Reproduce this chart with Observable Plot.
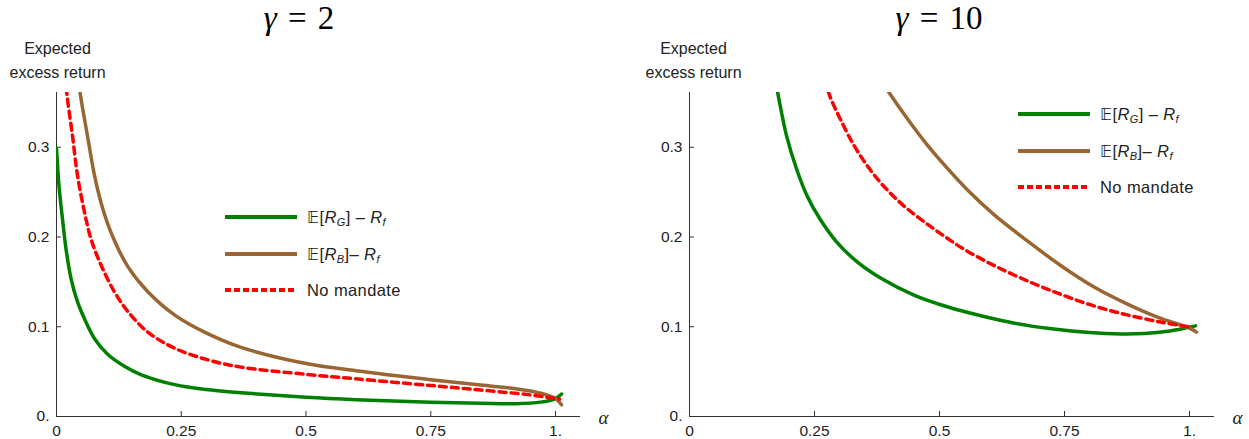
<!DOCTYPE html>
<html>
<head>
<meta charset="utf-8">
<script src="https://cdn.jsdelivr.net/npm/d3@7"></script>
<script src="https://cdn.jsdelivr.net/npm/@observablehq/plot@0.6"></script>
<style>
  body { margin: 0; background: #fff; }
  #root { position: relative; width: 1249px; height: 439px; overflow: hidden; font-family: "Liberation Sans", Arial, sans-serif; color: #222; }
  .panel { position: absolute; top: 0; width: 624px; height: 439px; }
  .title { position: absolute; top: 0; height: 36px; line-height: 36px; font-family: "Liberation Serif", "DejaVu Serif", serif; font-size: 33px; transform: translateX(-50%); white-space: nowrap; color: #000; }
  .title .eq { padding: 0 0.34em; }
  .plotbox { position: absolute; top: 36px; left: 0; }
  .legend { position: absolute; font-size: 16.5px; letter-spacing: 0.4px; }
  .row { position: absolute; left: 0; height: 20px; white-space: nowrap; }
  .row svg { position: absolute; left: 0; top: 6px; }
  .row .lbl { position: absolute; left: 82px; top: 0; line-height: 20px; }
  .row sub { font-size: 11px; vertical-align: -3px; line-height: 0; }
  .bb { font-family: "DejaVu Sans", sans-serif; }
</style>
</head>
<body>
<div id="root"></div>
<script>
// ---- Data ----
const xTicks = [0, 0.25, 0.5, 0.75, 1];
const xTickLabels = ["0", "0.25", "0.5", "0.75", "1."];
const yTicks = [0, 0.1, 0.2, 0.3];
const yTickLabels = ["0.", "0.1", "0.2", "0.3"];

// gamma = 2
const g2GreenAlpha = [0, 0.005, 0.012, 0.019, 0.029, 0.042, 0.056, 0.076, 0.103, 0.136, 0.17, 0.237, 0.3, 0.37, 0.5, 0.6, 0.75, 0.85, 0.92, 0.97, 1.0, 1.012];
const g2GreenValue = [0.299, 0.257, 0.22, 0.187, 0.154, 0.128, 0.109, 0.087, 0.069, 0.056, 0.0465, 0.0355, 0.030, 0.0265, 0.0215, 0.0188, 0.016, 0.0148, 0.0143, 0.016, 0.020, 0.025];
const g2BrownAlpha = [0.044, 0.048, 0.062, 0.076, 0.092, 0.113, 0.143, 0.183, 0.237, 0.304, 0.37, 0.5, 0.6, 0.75, 0.85, 0.92, 0.97, 1.0, 1.012];
const g2BrownValue = [0.375, 0.358, 0.313, 0.269, 0.233, 0.200, 0.167, 0.139, 0.113, 0.092, 0.077, 0.059, 0.051, 0.041, 0.035, 0.031, 0.026, 0.020, 0.013];
const g2RedAlpha = [0.017, 0.021, 0.032, 0.042, 0.056, 0.069, 0.089, 0.116, 0.143, 0.183, 0.237, 0.304, 0.37, 0.5, 0.6, 0.75, 0.85, 0.95, 1.0, 1.008];
const g2RedValue = [0.38, 0.358, 0.313, 0.269, 0.228, 0.198, 0.169, 0.139, 0.117, 0.094, 0.076, 0.063, 0.055, 0.047, 0.042, 0.0345, 0.0295, 0.024, 0.020, 0.0195];

// gamma = 10
const g10GreenAlpha = [0.17, 0.177, 0.194, 0.214, 0.235, 0.261, 0.295, 0.336, 0.383, 0.45, 0.517, 0.585, 0.65, 0.72, 0.8, 0.864, 0.91, 0.957, 1.0, 1.012];
const g10GreenValue = [0.38, 0.359, 0.313, 0.276, 0.246, 0.22, 0.194, 0.172, 0.154, 0.135, 0.122, 0.112, 0.104, 0.098, 0.0935, 0.092, 0.0925, 0.095, 0.0996, 0.101];
const g10BrownAlpha = [0.385, 0.399, 0.442, 0.475, 0.515, 0.555, 0.609, 0.675, 0.743, 0.81, 0.877, 0.944, 1.0, 1.014];
const g10BrownValue = [0.373, 0.361, 0.327, 0.303, 0.277, 0.253, 0.225, 0.196, 0.168, 0.144, 0.125, 0.109, 0.0985, 0.094];
const g10RedAlpha = [0.272, 0.28, 0.302, 0.329, 0.356, 0.383, 0.416, 0.45, 0.484, 0.517, 0.55, 0.61, 0.676, 0.743, 0.81, 0.877, 0.944, 1.0, 1.005];
const g10RedValue = [0.375, 0.358, 0.331, 0.302, 0.279, 0.26, 0.241, 0.225, 0.211, 0.198, 0.186, 0.168, 0.151, 0.136, 0.123, 0.113, 0.105, 0.0996, 0.099];

// ---- Styles ----
const GREEN = "#008000", BROWN = "#996633", RED = "#ff0000";
const AXIS = "#333";

function pairs(a, v) { return a.map((x, i) => ({alpha: x, value: v[i]})); }

function makePlot(cfg) {
  const W = 624, H = 403, mT = 56, mB = 23;
  const frameH = H - mT - mB;
  const frameW = W - cfg.mL - cfg.mR;
  return Plot.plot({
    width: W, height: H,
    marginLeft: cfg.mL, marginRight: cfg.mR, marginTop: mT, marginBottom: mB,
    x: {domain: [0, 1.05]},
    y: {domain: [0, 0.361]},
    style: {fontFamily: "Liberation Sans, Arial, sans-serif", fontSize: "15.5px", color: "#222", background: "transparent", overflow: "visible"},
    marks: [
      Plot.ruleY([0], {stroke: AXIS, strokeWidth: 1}),
      Plot.ruleX([0], {stroke: AXIS, strokeWidth: 1}),
      Plot.tickX(xTicks.slice(1), {x: d => d, stroke: AXIS, insetTop: frameH - 5}),
      Plot.tickY(yTicks.slice(1), {y: d => d, stroke: AXIS, insetRight: frameW - 5}),
      Plot.axisX(xTicks, {tickSize: 0, tickPadding: 8, tickFormat: d => xTickLabels[xTicks.indexOf(d)], label: null, fill: "#222"}),
      Plot.axisY(yTicks, {tickSize: 0, tickPadding: 7, tickFormat: d => yTickLabels[yTicks.indexOf(d)], label: null, fill: "#222"}),
      Plot.line(pairs(cfg.gA, cfg.gV), {x: "alpha", y: "value", stroke: GREEN, strokeWidth: 3.5, curve: "catmull-rom", clip: true}),
      Plot.line(pairs(cfg.bA, cfg.bV), {x: "alpha", y: "value", stroke: BROWN, strokeWidth: 3.5, curve: "catmull-rom", clip: true}),
      Plot.line(pairs(cfg.rA, cfg.rV), {x: "alpha", y: "value", stroke: RED, strokeWidth: 3.5, strokeDasharray: "7,5", curve: "catmull-rom", clip: true}),
      Plot.text(["Expected\nexcess return"], {frameAnchor: "top-left", dx: cfg.ylabDx, dy: -15, textAnchor: "middle", lineAnchor: "bottom", lineHeight: 1.5, fontSize: 16, fill: "#222"}),
      Plot.text(["α"], {frameAnchor: "bottom-right", dx: cfg.alphaDx, dy: 7, textAnchor: "middle", fontSize: 19, fontStyle: "italic", fontFamily: "Liberation Serif, serif", fill: "#222"})
    ]
  });
}

function legendHTML(left, top) {
  const rows = [
    {stroke: GREEN, dash: null, html: '<span class="bb">𝔼</span>[<i>R</i><sub><i>G</i></sub>] – <i>R</i><sub><i>f</i></sub>'},
    {stroke: BROWN, dash: null, html: '<span class="bb">𝔼</span>[<i>R</i><sub><i>B</i></sub>]– <i>R</i><sub><i>f</i></sub>'},
    {stroke: RED, dash: "6,3", html: 'No mandate'}
  ];
  const div = document.createElement("div");
  div.className = "legend";
  div.style.left = left + "px";
  div.style.top = top + "px";
  rows.forEach((r, i) => {
    const row = document.createElement("div");
    row.className = "row";
    row.style.top = (i * 36.5) + "px";
    row.innerHTML = `<svg width="72" height="8"><line x1="0" x2="72" y1="4" y2="4" stroke="${r.stroke}" stroke-width="4" ${r.dash ? `stroke-dasharray="${r.dash}"` : ""}/></svg><span class="lbl">${r.html}</span>`;
    div.appendChild(row);
  });
  return div;
}

const root = document.getElementById("root");

const panels = [
  {left: 0, title: '<i>γ</i><span class="eq">=</span>2', titleX: 299, mL: 56, mR: 44, ylabDx: 1, alphaDx: 23,
   gA: g2GreenAlpha, gV: g2GreenValue, bA: g2BrownAlpha, bV: g2BrownValue, rA: g2RedAlpha, rV: g2RedValue,
   legLeft: 225, legTop: 207},
  {left: 625, title: '<i>γ</i><span class="eq">=</span>10', titleX: 314, mL: 64, mR: 35, ylabDx: 4, alphaDx: 23,
   gA: g10GreenAlpha, gV: g10GreenValue, bA: g10BrownAlpha, bV: g10BrownValue, rA: g10RedAlpha, rV: g10RedValue,
   legLeft: 393, legTop: 104}
];

panels.forEach(cfg => {
  const p = document.createElement("div");
  p.className = "panel";
  p.style.left = cfg.left + "px";
  const t = document.createElement("div");
  t.className = "title";
  t.style.left = cfg.titleX + "px";
  t.innerHTML = cfg.title;
  p.appendChild(t);
  const box = document.createElement("div");
  box.className = "plotbox";
  box.appendChild(makePlot(cfg));
  p.appendChild(box);
  p.appendChild(legendHTML(cfg.legLeft, cfg.legTop));
  root.appendChild(p);
});
</script>
</body>
</html>
